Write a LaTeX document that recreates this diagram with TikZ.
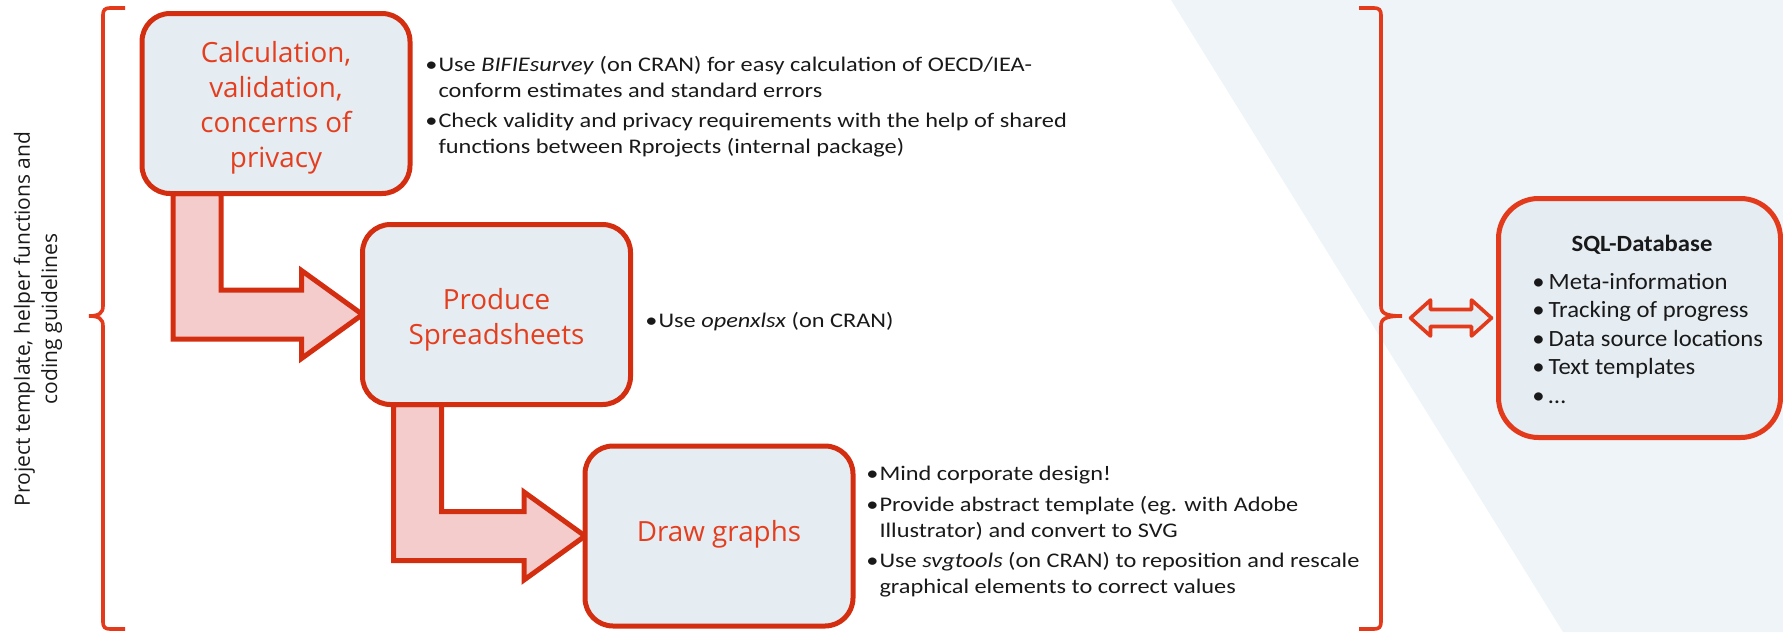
\documentclass[tikz,border=0pt]{standalone}
\usepackage{fontspec}
\setmainfont{Carlito}
\newfontfamily\notefont{Carlito}[FakeStretch=1.17]
\newfontfamily\sqlfont{Carlito}[FakeStretch=1.06]
\newfontfamily\titlefont{Open Sans}
\newfontfamily\sidefont{Open Sans}
\usetikzlibrary{calc}
\definecolor{bred}{RGB}{212,46,16}
\definecolor{tred}{RGB}{228,62,30}
\definecolor{brc}{RGB}{226,58,26}
\definecolor{boxfill}{RGB}{229,237,243}
\definecolor{bgpoly}{RGB}{238,244,247}
\definecolor{arrfill}{RGB}{244,204,204}
\definecolor{txt}{RGB}{25,25,25}
\pgfdeclarelayer{back}
\pgfsetlayers{back,main}
\begin{document}
\begin{tikzpicture}[x=0.5pt,y=-0.5pt,
 stepbox/.style={draw=bred, line width=2.5pt, fill=boxfill, rounded corners=14pt,
   minimum width=134pt, minimum height=90pt, outer sep=0pt, inner sep=0pt},
 steptitle/.style={align=center, text=tred, inner sep=0pt,
   font=\titlefont\fontsize{13.9}{17.5}\selectfont},
 sqlbox/.style={draw=brc, line width=2.5pt, fill=boxfill, rounded corners=20pt,
   minimum width=141pt, minimum height=119.5pt, outer sep=0pt, inner sep=0pt},
 bent/.style={draw=bred, line width=2.5pt, fill=arrfill, line join=miter},
 dblarrow/.style={draw=brc, line width=1.8pt, fill=boxfill, line join=round},
 brace/.style={draw=brc, line width=1.8pt},
 note/.style={anchor=west, inner sep=0pt, text=txt, font=\notefont\fontsize{10.4}{13}\selectfont, align=left},
 sqlnote/.style={anchor=west, inner sep=0pt, text=txt, font=\sqlfont\fontsize{11.65}{14.25}\selectfont, align=left},
]
\useasboundingbox (0,0) rectangle (1783,632);
\begin{pgfonlayer}{back}
\fill[bgpoly] (1171,0) -- (1783,0) -- (1783,632) -- (1563,632) -- cycle;
\end{pgfonlayer}

% boxes
\node[stepbox] (box1) at (276,103.5) {};
\node[stepbox] (box2) at (496.5,314.5) {};
\node[stepbox] (box3) at (719,536) {};
\node[sqlbox] (sql) at (1639.5,318) {};
\node[steptitle] (t1) at ($(box1.center)+(0,4)$) {Calculation,\\validation,\\concerns of\\privacy};
\node[steptitle] (t2) at ($(box2.center)+(0,5)$) {Produce\\Spreadsheets};
\node[steptitle] (t3) at ($(box3.center)+(0,-1.5)$) {Draw graphs};

% bent arrows
\begin{pgfonlayer}{back}
\foreach \a/\b in {box1/box2, box2/box3} {
 \draw[bent] ($(\a.south west)+(31,0)$) |- ($(\b.west)+(-61,24.5)$)
   -- ($(\b.west)+(-61,44)$) -- (\b.west) -- ($(\b.west)+(-61,-44)$)
   -- ($(\b.west)+(-61,-24.5)$) -| ($(\a.south west)+(79,0)$) -- cycle;
}
\end{pgfonlayer}

% braces
\draw[brace] (125,8) -- (110,8) .. controls (105,8) and (103,10) .. (103,15) -- (103,306)
  .. controls (103,313) and (99,316) .. (89,316) .. controls (99,316) and (103,319) .. (103,326)
  -- (103,622) .. controls (103,627) and (105,629) .. (110,629) -- (125,629);
\draw[brace] (1359,8) -- (1374,8) .. controls (1379,8) and (1381,10) .. (1381,15) -- (1381,306)
  .. controls (1381,313) and (1385,316) .. (1402,316) coordinate (rbtip) .. controls (1385,316) and (1381,319) .. (1381,326)
  -- (1381,622) .. controls (1381,627) and (1379,629) .. (1374,629) -- (1359,629);

% double arrow
\coordinate (dR) at ($(sql.west)+(-7,0)$);
\coordinate (dL) at ($(sql.west)+(-88,0)$);
\draw[dblarrow] (dL) -- ($(dL)+(20,-18)$) -- ($(dL)+(20,-8.5)$) -- ($(dR)+(-20,-8.5)$)
  -- ($(dR)+(-20,-18)$) -- (dR) -- ($(dR)+(-20,18)$) -- ($(dR)+(-20,8.5)$)
  -- ($(dL)+(20,8.5)$) -- ($(dL)+(20,18)$) -- cycle;

% side label
\node[rotate=90, align=center, text=txt, font=\sidefont\fontsize{10.5}{13.6}\selectfont] (side) at (38,319)
  {Project template, helper functions and\\coding guidelines};

% notes
\node[note] (n1) at (425,107) {\begin{tabular}{@{}l@{\hspace{0.5pt}}l@{}}
\textbullet & Use \textit{BIFIEsurvey} (on CRAN) for easy calculation of OECD/IEA-\\
 & conform estimates and standard errors\\[2pt]
\textbullet & Check validity and privacy requirements with the help of shared\\
 & functions between Rprojects (internal package)
\end{tabular}};
\node[note] (n2) at (645,322) {\textbullet\hspace{0.5pt}Use \textit{openxlsx} (on CRAN)};
\node[note] (n3) at (866,532) {\begin{tabular}{@{}l@{\hspace{0.5pt}}l@{}}
\textbullet & Mind corporate design!\\[2.2pt]
\textbullet & Provide abstract template (eg. with Adobe\\
 & Illustrator) and convert to SVG\\[2.2pt]
\textbullet & Use \textit{svgtools} (on CRAN) to reposition and rescale\\
 & graphical elements to correct values
\end{tabular}};

% SQL contents
\node[text=txt, font=\sqlfont\fontsize{11.65}{14}\selectfont\bfseries, inner sep=0pt] (sqltitle) at (1642,244.5) {SQL-Database};
\node[sqlnote] (sqllist) at (1532,340.6) {\begin{tabular}{@{}l@{\hspace{2pt}}l@{}}
\textbullet & Meta-information\\
\textbullet & Tracking of progress\\
\textbullet & Data source locations\\
\textbullet & Text templates\\
\textbullet & \dots
\end{tabular}};
\end{tikzpicture}
\end{document}
